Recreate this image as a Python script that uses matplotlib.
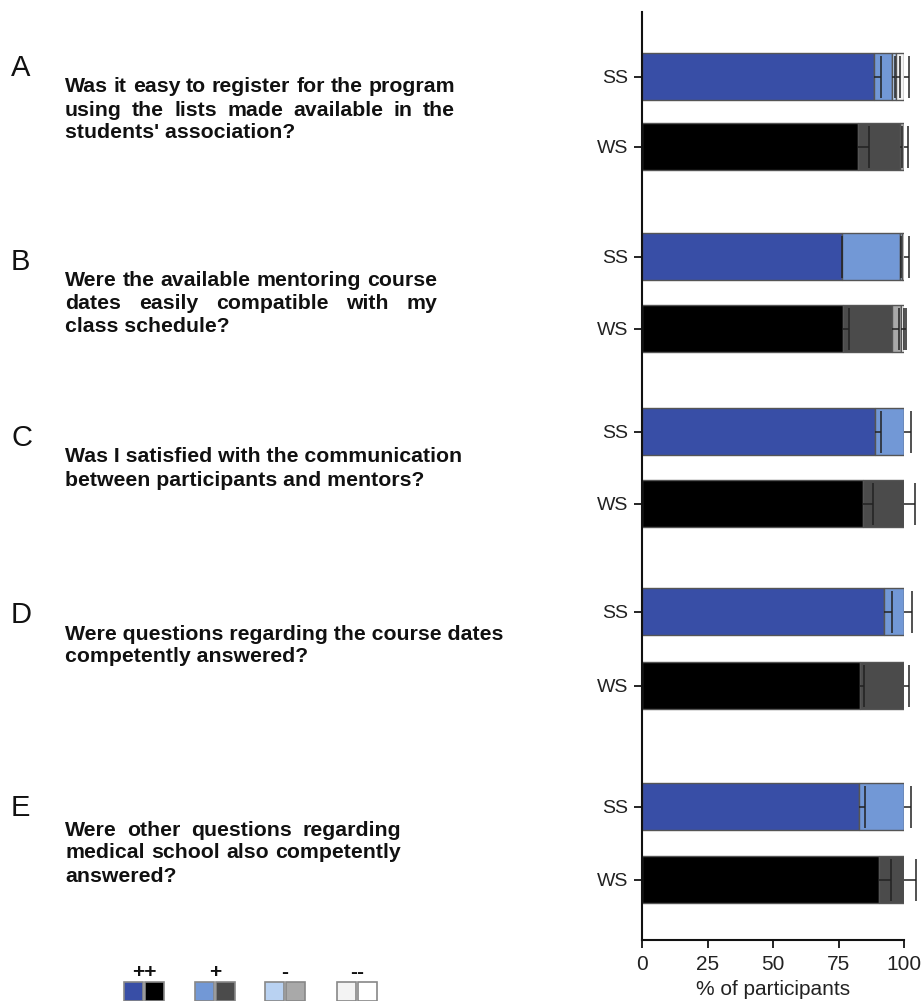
import matplotlib
matplotlib.use("Agg")
import matplotlib.pyplot as plt
from matplotlib.patches import Rectangle

plt.rcParams['font.family'] = ['Liberation Sans', 'DejaVu Sans']

# ---------------- data ----------------
letters = ["A", "B", "C", "D", "E"]
questions = [
    ["Was it easy to register for the program",
     "using the lists made available in the",
     "students' association?"],
    ["Were the available mentoring course",
     "dates easily compatible with my",
     "class schedule?"],
    ["Was I satisfied with the communication",
     "between participants and mentors?"],
    ["Were questions regarding the course dates",
     "competently answered?"],
    ["Were other questions regarding",
     "medical school also competently",
     "answered?"],
]
groups = ["SS", "WS"]
categories = ["++", "+", "-", "--"]

# percentages per question for each response category
ss_pp = [88.7, 76.2, 89.0, 92.5, 82.8]
ss_p = [6.8, 22.3, 11.0, 7.5, 17.2]
ss_m = [1.6, 0.6, 0.0, 0.0, 0.0]
ss_mm = [2.9, 0.9, 0.0, 0.0, 0.0]
ss_err_pp = [2.5, 0.3, 2.4, 2.9, 2.4]
ss_err_p = [1.2, 0.5, 2.5, 3.2, 2.5]
ss_err_m = [1.2, 0.0, 0.0, 0.0, 0.0]
ss_err_mm = [2.0, 1.8, 0.0, 0.0, 0.0]

ws_pp = [82.3, 76.9, 84.5, 83.2, 90.3]
ws_p = [16.2, 18.4, 15.5, 16.8, 9.7]
ws_m = [1.5, 3.7, 0.0, 0.0, 0.0]
ws_mm = [0.0, 1.0, 0.0, 0.0, 0.0]
ws_err_pp = [4.2, 2.0, 3.8, 1.7, 4.7]
ws_err_p = [0.8, 2.9, 4.2, 2.0, 4.4]
ws_err_m = [1.7, 1.0, 0.0, 0.0, 0.0]
ws_err_mm = [0.0, 0.6, 0.0, 0.0, 0.0]

ss_colors = ["#384ea6", "#7298d6", "#b9d2f2", "#f3f3f3"]
ws_colors = ["#000000", "#4b4b4b", "#a9a9a9", "#ffffff"]

# ---------------- layout ----------------
W, H = 921, 1001
fig = plt.figure(figsize=(W / 100, H / 100), dpi=100)

ax_left, ax_right, ax_top, ax_bot = 642, 904, 12, 940
ax = fig.add_axes([ax_left / W, (H - ax_bot) / H, (ax_right - ax_left) / W, (ax_bot - ax_top) / H])
ax.set_xlim(0, 100)
ax.set_ylim(ax_bot, ax_top)  # vertical layout units = pixels from top

ss_centers = [77, 257, 432, 612, 807]
ws_centers = [147, 329, 504, 686, 880]
bar_h = 47

def draw_bar(yc, vals, errs, colors):
    left = 0
    for v, c in zip(vals, colors):
        if v > 0:
            ax.barh(yc, v, left=left, height=bar_h, color=c, edgecolor="#555555",
                    linewidth=1.0, zorder=2)
        left += v
    left = 0
    for v, e in zip(vals, errs):
        left += v
        if v > 0 and e > 0:
            eb = ax.errorbar(left, yc, xerr=[[0], [e]], fmt="none", ecolor="#222222",
                             elinewidth=1.1, capsize=15, capthick=1.1, zorder=3)
            for art in list(eb.lines[1]) + list(eb.lines[2]):
                art.set_clip_on(False)
            for cl in eb.lines[1]:
                xd = cl.get_xdata()
                if abs(float(xd[0]) - left) < 1e-9:
                    cl.set_visible(False)

for i in range(5):
    draw_bar(ss_centers[i], [ss_pp[i], ss_p[i], ss_m[i], ss_mm[i]],
             [ss_err_pp[i], ss_err_p[i], ss_err_m[i], ss_err_mm[i]], ss_colors)
    draw_bar(ws_centers[i], [ws_pp[i], ws_p[i], ws_m[i], ws_mm[i]],
             [ws_err_pp[i], ws_err_p[i], ws_err_m[i], ws_err_mm[i]], ws_colors)

yt = []
ylab = []
for i in range(5):
    yt += [ss_centers[i], ws_centers[i]]
    ylab += groups
ax.set_yticks(yt)
ax.set_yticklabels(ylab, fontsize=14, color="#222222")
ax.set_xticks([0, 25, 50, 75, 100])
ax.set_xticklabels(["0", "25", "50", "75", "100"], fontsize=15, color="#222222")
ax.tick_params(axis="y", length=6, width=1.2, pad=4)
ax.tick_params(axis="x", length=6, width=1.2, pad=5)
ax.set_xlabel("% of participants", fontsize=15, color="#222222", labelpad=4)
for s in ["top", "right"]:
    ax.spines[s].set_visible(False)
for s in ["left", "bottom"]:
    ax.spines[s].set_linewidth(1.5)
    ax.spines[s].set_color("#111111")
ax.spines["bottom"].set_bounds(0, 100)

# ---------------- question text ----------------
letter_y = [68, 262, 438, 615, 808]
first_line_y = [87, 280, 457, 634, 830]
justify_w = [390, 372, None, None, 336]
line_gap = 23
text_x = 65
qsize = 15.3

fig.canvas.draw()
renderer = fig.canvas.get_renderer()

def fx(px):
    return px / W

def fy(py):
    return 1 - py / H

for i in range(5):
    fig.text(fx(11), fy(letter_y[i]), letters[i], fontsize=21, va="center", ha="left",
             color="#111111")
    lines = questions[i]
    for j, line in enumerate(lines):
        y = first_line_y[i] + j * line_gap
        if justify_w[i] is not None and j < len(lines) - 1:
            words = line.split(" ")
            texts = [fig.text(fx(text_x), fy(y), w, fontsize=qsize, fontweight="bold",
                              va="center", ha="left", color="#111111") for w in words]
            widths = [t.get_window_extent(renderer).width for t in texts]
            gap = (justify_w[i] - sum(widths)) / (len(words) - 1)
            x = text_x
            for t, wdt in zip(texts, widths):
                t.set_x(fx(x))
                x += wdt + gap
        else:
            fig.text(fx(text_x), fy(y), line, fontsize=qsize, fontweight="bold",
                     va="center", ha="left", color="#111111")

# ---------------- legend ----------------
leg_x = [124, 195, 265, 337]
sq = 19
sq_top = 982
for k in range(4):
    for m, cols in enumerate([ss_colors, ws_colors]):
        x0 = leg_x[k] + m * (sq + 2)
        fig.add_artist(Rectangle((fx(x0), fy(sq_top + sq)), sq / W, sq / H,
                                 transform=fig.transFigure, facecolor=cols[k],
                                 edgecolor="#888888", linewidth=1.2))
    fig.text(fx(leg_x[k] + sq + 1), fy(972), categories[k], fontsize=15,
             fontweight="bold", ha="center", va="center", color="#111111")

fig.savefig("out.png", dpi=100, facecolor="white")
